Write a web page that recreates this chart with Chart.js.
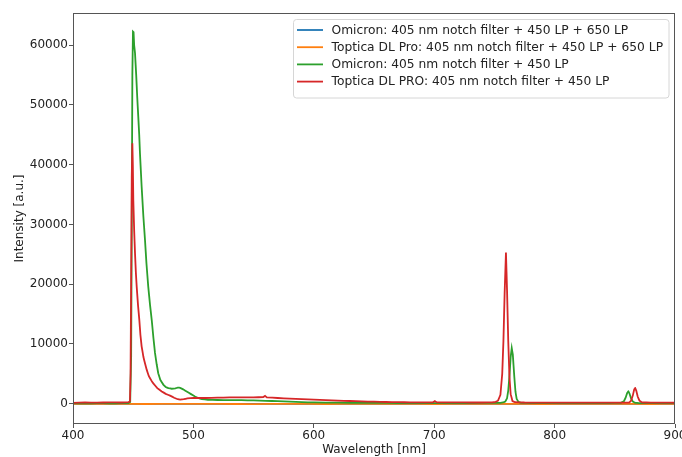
<!DOCTYPE html>
<html>
<head>
<meta charset="utf-8">
<script src="https://cdn.jsdelivr.net/npm/chart.js@4.4.1/dist/chart.umd.min.js"></script>
<style>
  html, body { margin: 0; padding: 0; background: #fff; }
  #wrap { width: 682px; height: 457px; }
</style>
</head>
<body>
<div id="wrap"><canvas id="c" width="682" height="457"></canvas></div>
<script>
// ---- data ----
const seriesLabels = [
  "Omicron: 405 nm notch filter + 450 LP + 650 LP",
  "Toptica DL Pro: 405 nm notch filter + 450 LP + 650 LP",
  "Omicron: 405 nm notch filter + 450 LP",
  "Toptica DL PRO: 405 nm notch filter + 450 LP"
];
const xTicks = [400, 500, 600, 700, 800, 900];
const yTicks = [0, 10000, 20000, 30000, 40000, 50000, 60000];

const omicron650X = [400, 450, 500, 550, 600, 650, 700, 750, 800, 850, 900];
const omicron650Y = [-40, -30, -40, -30, -40, -30, -40, -30, -40, -30, -40];

const toptica650X = [400, 430, 460, 490, 520, 550, 580, 610, 640, 670, 700, 730, 760, 790, 820, 850, 880, 900];
const toptica650Y = [-40, -20, -50, -30, -40, -60, -30, -50, -40, -30, -50, -40, -30, -50, -40, -30, -50, -40];

const omicron450X = [400, 410, 420, 430, 440, 446, 447.5, 448.3, 448.8, 449.3, 449.8, 450.3, 450.8, 451.5, 452.5, 453.3, 454.2, 455, 455.6, 457, 458.4, 459.8, 461, 462.5, 464, 465.4, 466.8, 468.1, 469.5, 470.8, 472.5, 475, 477, 479.2, 482, 485, 487, 489, 491.5, 494.4, 498, 501.3, 504, 507, 512, 520, 530, 540, 550, 560, 570, 580, 590, 600, 620, 640, 660, 680, 700, 720, 740, 750, 755, 757, 759, 760.5, 761.5, 762.5, 763.5, 764.4, 765.3, 766.5, 767.5, 768.5, 770, 772, 780, 800, 820, 840, 850, 855, 857.5, 859, 860.3, 861.2, 862.2, 863.5, 865, 867, 870, 880, 890, 900];
const omicron450Y = [80, 60, 90, 70, 80, 100, 300, 8000, 30000, 55000, 62300, 62200, 60000, 58700, 55000, 51500, 48100, 45000, 42000, 36400, 31500, 27400, 23500, 19600, 16500, 14000, 11000, 8500, 6600, 5100, 4000, 3200, 2800, 2600, 2500, 2550, 2700, 2650, 2400, 2050, 1600, 1200, 950, 780, 650, 620, 600, 580, 540, 480, 420, 330, 260, 210, 170, 150, 120, 110, 100, 110, 120, 130, 150, 200, 350, 900, 2200, 4600, 7800, 9300, 8200, 4600, 2000, 800, 300, 150, 110, 100, 100, 110, 120, 150, 400, 1000, 1800, 2100, 1700, 900, 350, 150, 100, 90, 100, 90];

const toptica450X = [400, 410, 420, 430, 440, 446, 447.3, 447.8, 448.3, 448.8, 449.3, 449.7, 450.1, 450.8, 451.5, 452.2, 452.9, 454, 455.1, 456, 457, 458.5, 460, 461.2, 463, 465, 466.7, 470, 473.7, 477, 480.6, 484, 487, 489, 492, 495, 500, 510, 520, 530, 540, 550, 558, 559.5, 561, 570, 580, 590, 600, 610, 620, 630, 640, 650, 660, 670, 680, 690, 699, 700.5, 702, 710, 720, 730, 740, 748, 751, 753, 755, 756.5, 757.5, 758.5, 759.6, 760.5, 761.5, 762.5, 763.5, 765, 767, 775, 790, 800, 820, 840, 855, 862, 863.5, 865, 866, 866.8, 867.8, 869, 870.5, 872.5, 880, 890, 900];
const toptica450Y = [150, 200, 180, 220, 200, 250, 400, 5000, 20000, 38000, 43600, 40000, 34000, 29000, 25200, 22000, 19600, 16500, 14000, 11500, 9600, 7800, 6600, 5700, 4600, 3900, 3400, 2600, 2050, 1650, 1350, 1000, 750, 670, 750, 900, 950, 950, 1000, 1050, 1050, 1050, 1100, 1300, 1050, 950, 850, 750, 680, 600, 520, 450, 380, 330, 280, 250, 230, 220, 240, 450, 240, 220, 220, 200, 200, 220, 300, 500, 1500, 5000, 10500, 18500, 25300, 19000, 10500, 4500, 1600, 450, 250, 200, 180, 180, 190, 180, 170, 200, 500, 1400, 2300, 2650, 2200, 1200, 500, 220, 180, 170, 160];

const seriesColors = ["#1f77b4", "#ff7f0e", "#2ca02c", "#d62728"];

// ---- chart ----
const pts = (xs, ys) => xs.map((x, i) => ({ x: x, y: ys[i] }));
const seriesData = [
  pts(omicron650X, omicron650Y),
  pts(toptica650X, toptica650Y),
  pts(omicron450X, omicron450Y),
  pts(toptica450X, toptica450Y)
];

const FONT = "'DejaVu Sans', sans-serif";
const TXT = "#222";
const FRAME = "#555";

const framePlugin = {
  id: 'frame',
  afterDatasetsDraw(chart) {
    const { ctx, chartArea: a } = chart;
    ctx.save();
    ctx.strokeStyle = FRAME;
    ctx.lineWidth = 1;
    ctx.strokeRect(Math.round(a.left) + 0.5, Math.round(a.top) + 0.5,
                   Math.round(a.right - a.left) - 1, Math.round(a.bottom - a.top) - 1);
    ctx.restore();
  }
};

const legendPlugin = {
  id: 'mplLegend',
  afterDraw(chart) {
    const ctx = chart.ctx;
    const bx = 293.5, by = 19.5, bw = 375.5, bh = 78.5, r = 3;
    ctx.save();
    ctx.beginPath();
    ctx.moveTo(bx + r, by);
    ctx.lineTo(bx + bw - r, by);
    ctx.quadraticCurveTo(bx + bw, by, bx + bw, by + r);
    ctx.lineTo(bx + bw, by + bh - r);
    ctx.quadraticCurveTo(bx + bw, by + bh, bx + bw - r, by + bh);
    ctx.lineTo(bx + r, by + bh);
    ctx.quadraticCurveTo(bx, by + bh, bx, by + bh - r);
    ctx.lineTo(bx, by + r);
    ctx.quadraticCurveTo(bx, by, bx + r, by);
    ctx.closePath();
    ctx.fillStyle = 'rgba(255,255,255,0.85)';
    ctx.fill();
    ctx.strokeStyle = '#d6d6d6';
    ctx.lineWidth = 1;
    ctx.stroke();
    ctx.font = "12.25px " + FONT;
    ctx.textBaseline = 'middle';
    ctx.textAlign = 'left';
    chart.data.datasets.forEach((ds, i) => {
      const y = 30 + i * 17.2;
      ctx.strokeStyle = ds.borderColor;
      ctx.lineWidth = 1.8;
      ctx.beginPath();
      ctx.moveTo(297, y);
      ctx.lineTo(323, y);
      ctx.stroke();
      ctx.fillStyle = TXT;
      ctx.fillText(ds.label, 331.5, y + 0.5);
    });
    ctx.restore();
  }
};

new Chart(document.getElementById('c'), {
  type: 'line',
  data: {
    datasets: seriesLabels.map((lab, i) => ({
      label: lab,
      data: seriesData[i],
      borderColor: seriesColors[i],
      backgroundColor: seriesColors[i],
      borderWidth: 1.8,
      pointRadius: 0,
      tension: 0.0001,
      fill: false,
      order: seriesLabels.length - 1 - i
    }))
  },
  options: {
    responsive: false,
    animation: false,
    events: [],
    layout: { padding: { top: 13, right: 7, left: 0, bottom: 0 } },
    plugins: { legend: { display: false }, tooltip: { enabled: false } },
    scales: {
      x: {
        type: 'linear',
        position: 'bottom',
        min: 400,
        max: 900,
        afterBuildTicks: s => { s.ticks = xTicks.map(v => ({ value: v })); },
        afterFit: s => { s.height = 33; s.paddingLeft = 0; s.paddingRight = 0; },
        border: { display: false },
        grid: { display: true, drawOnChartArea: false, drawTicks: true, tickLength: 4, color: FRAME },
        ticks: { color: TXT, font: { family: FONT, size: 12 }, padding: 1, maxRotation: 0, autoSkip: false,
                 callback: v => String(v) },
        title: { display: true, text: 'Wavelength [nm]', color: TXT, font: { family: FONT, size: 12 },
                 padding: { top: 0, bottom: 0 } }
      },
      y: {
        type: 'linear',
        position: 'left',
        min: -3400,
        max: 65400,
        afterBuildTicks: s => { s.ticks = yTicks.map(v => ({ value: v })); },
        afterFit: s => { s.width = 73; s.paddingTop = 0; s.paddingBottom = 0; },
        border: { display: false },
        grid: { display: true, drawOnChartArea: false, drawTicks: true, tickLength: 4, color: FRAME },
        ticks: { color: TXT, font: { family: FONT, size: 12 }, padding: 1, autoSkip: false,
                 callback: v => String(v) },
        title: { display: true, text: 'Intensity [a.u.]', color: TXT, font: { family: FONT, size: 12 },
                 padding: { top: 13, bottom: 0 } }
      }
    }
  },
  plugins: [framePlugin, legendPlugin]
});
</script>
</body>
</html>
